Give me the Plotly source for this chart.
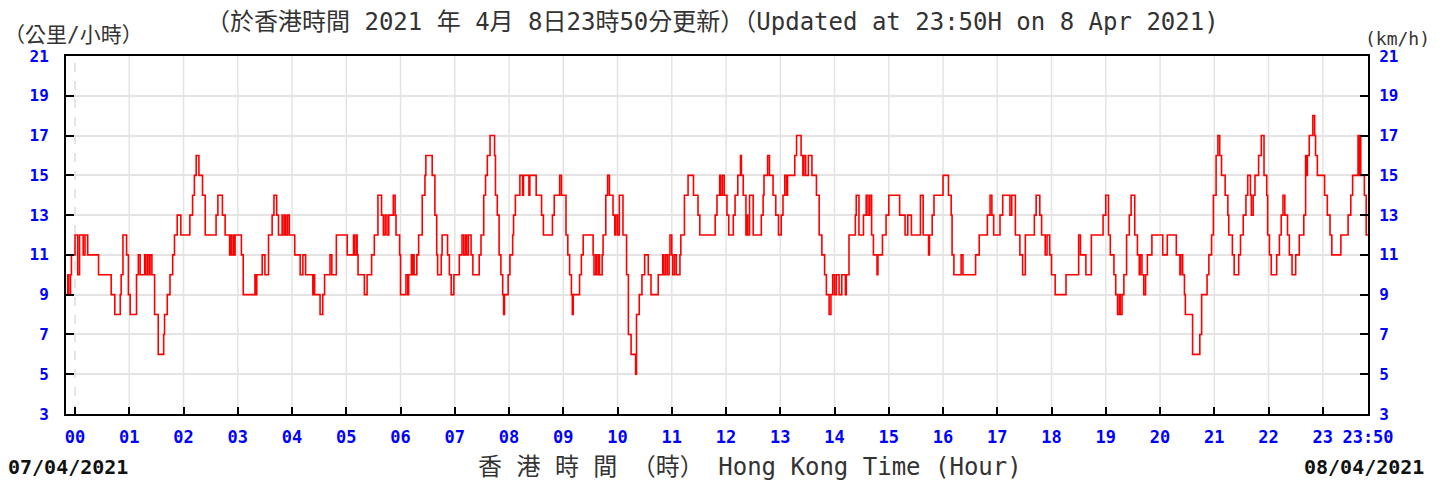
import plotly.graph_objects as go

# ---- data: change points (minutes from 00:00 on 8 Apr 2021) and wind speed (km/h)
minutes = [
    -10, -8, -7, -5, -4, 0, 3, 5, 9, 11, 14, 26, 40, 44, 50, 51, 53, 57, 59, 61,
    68, 70, 72, 77, 78, 80, 82, 83, 85, 88, 92, 98, 99, 102, 105, 108, 110, 113, 117, 127,
    130, 132, 134, 137, 141, 144, 156, 158, 163, 166, 171, 172, 173, 175, 176, 177, 184, 186, 199, 200,
    201, 207, 210, 214, 218, 220, 223, 225, 229, 230, 232, 233, 235, 237, 243, 249, 252, 255, 263, 264,
    265, 271, 274, 276, 282, 284, 289, 301, 308, 309, 311, 312, 313, 320, 323, 328, 331, 335, 339, 341,
    343, 345, 347, 350, 352, 354, 355, 359, 360, 366, 368, 369, 372, 373, 374, 375, 378, 380, 384, 387,
    388, 395, 398, 400, 401, 405, 406, 412, 414, 416, 419, 425, 428, 430, 432, 433, 435, 438, 440, 447,
    449, 452, 454, 456, 459, 464, 465, 467, 469, 471, 473, 474, 475, 479, 481, 484, 485, 487, 492, 495,
    496, 502, 503, 510, 516, 518, 528, 530, 536, 538, 543, 545, 547, 549, 550, 551,
    558, 560, 562, 573, 574, 576, 577, 579, 580, 583, 584, 587, 589, 591, 595, 597, 598, 600, 602, 606,
    610, 612, 615, 620, 621, 624, 627, 630, 634, 637, 645, 650, 651, 653, 655, 657, 658, 660, 661, 663,
    665, 669, 670, 674, 678, 684, 689, 691, 708, 710, 713, 714, 716, 718, 721, 723, 728, 730, 733, 736,
    737, 739, 742, 743, 744, 746, 750, 759, 761, 762, 766, 768, 772, 775, 778, 781, 783, 785, 787, 788,
    796, 798, 803, 805, 806, 808, 811, 815, 820, 823, 826, 829, 831, 834, 836, 838, 840, 842, 845, 848,
    852, 853, 856, 863, 864, 867, 872, 875, 877, 879, 881, 883, 887, 888, 893, 897, 900, 912, 918, 921,
    925, 935, 938, 944, 945, 948, 950, 960, 966, 969, 970, 972, 980, 982, 996, 1000, 1009, 1012, 1014, 1016,
    1023, 1026, 1034, 1036, 1040, 1045, 1048, 1051, 1061, 1063, 1067, 1069, 1073, 1075, 1078, 1080, 1084, 1096, 1110, 1112,
    1118, 1124, 1137, 1140, 1143, 1145, 1149, 1151, 1153, 1155, 1156, 1158, 1160, 1163, 1166, 1168, 1172, 1175, 1177, 1178,
    1180, 1182, 1184, 1186, 1191, 1203, 1208, 1218, 1222, 1223, 1225, 1227, 1228, 1236, 1244, 1246, 1252, 1254, 1257, 1259,
    1262, 1264, 1266, 1268, 1272, 1275, 1276, 1280, 1282, 1287, 1289, 1292, 1295, 1297, 1300, 1301, 1303, 1305, 1309, 1312,
    1315, 1318, 1319, 1321, 1323, 1329, 1332, 1334, 1336, 1338, 1341, 1343, 1346, 1350, 1354, 1359, 1361, 1362, 1363, 1365,
    1369, 1371, 1372, 1374, 1382, 1385, 1388, 1390, 1400, 1408, 1411, 1413, 1419, 1420, 1421, 1422, 1426, 1428, 1430,
]
speed_kmh = [
    9, 10, 9, 10, 11, 12, 10, 12, 11, 12, 11, 10, 9, 8, 9, 10, 12, 11, 9, 8,
    10, 11, 10, 11, 10, 11, 10, 11, 10, 8, 6, 7, 8, 9, 10, 11, 12, 13, 12, 13,
    14, 15, 16, 15, 14, 12, 13, 14, 13, 12, 11, 12, 11, 12, 11, 12, 11, 9, 10, 9,
    10, 11, 10, 12, 13, 14, 13, 12, 13, 12, 13, 12, 13, 12, 11, 10, 11, 10, 9, 10,
    9, 8, 9, 10, 11, 10, 12, 11, 12, 11, 12, 11, 10, 9, 10, 11, 12, 14, 13, 12,
    13, 12, 13, 13, 14, 13, 12, 11, 9, 10, 9, 10, 11, 10, 11, 10, 11, 12, 14, 15,
    16, 15, 13, 11, 10, 11, 12, 11, 10, 9, 10, 11, 12, 11, 12, 11, 12, 11, 10, 11,
    12, 14, 15, 16, 17, 16, 14, 13, 11, 10, 9, 8, 9, 10, 11, 12, 13, 14, 15, 14,
    15, 14, 15, 14, 13, 12, 13, 14, 15, 14, 12, 11, 10, 9, 8, 9,
    10, 11, 12, 11, 10, 11, 10, 11, 10, 11, 12, 14, 15, 14, 13, 12, 13, 12, 14, 12,
    10, 7, 6, 5, 8, 9, 10, 11, 10, 9, 10, 11, 10, 11, 10, 11, 12, 11, 10, 11,
    10, 11, 12, 14, 15, 14, 13, 12, 13, 14, 15, 14, 15, 14, 13, 12, 13, 14, 15, 16,
    15, 14, 12, 13, 12, 14, 12, 13, 14, 15, 16, 15, 14, 13, 12, 13, 14, 15, 14, 15,
    16, 17, 16, 15, 16, 15, 16, 15, 14, 12, 11, 10, 9, 8, 9, 10, 9, 10, 9, 10,
    9, 10, 12, 13, 14, 12, 13, 14, 13, 14, 12, 11, 10, 11, 12, 13, 14, 13, 12, 13,
    12, 14, 12, 11, 12, 13, 14, 15, 14, 13, 11, 10, 11, 10, 11, 12, 13, 14, 13, 12,
    13, 14, 13, 14, 12, 11, 10, 12, 13, 14, 13, 12, 11, 12, 11, 10, 9, 10, 12, 11,
    10, 12, 13, 14, 12, 11, 10, 9, 8, 9, 8, 9, 10, 12, 13, 14, 12, 11, 10, 11,
    10, 9, 10, 11, 12, 11, 12, 11, 10, 11, 10, 9, 8, 6, 7, 9, 10, 11, 12, 14,
    16, 17, 16, 15, 14, 13, 12, 11, 10, 11, 12, 13, 14, 15, 14, 13, 14, 15, 16, 17,
    15, 14, 12, 11, 10, 11, 12, 13, 14, 13, 12, 11, 10, 11, 12, 13, 16, 15, 16, 17,
    18, 17, 16, 15, 14, 13, 12, 11, 12, 13, 14, 15, 17, 15, 17, 15, 14, 12, 12,
]

hour_ticks = list(range(24)) + [1430 / 60]
hour_labels = ["%02d" % h for h in range(24)] + ["23:50"]
y_ticks = list(range(3, 22, 2))

title_text = "（於香港時間 2021 年 4月 8日23時50分更新）（Updated at 23:50H on 8 Apr 2021)"
unit_cn = "（公里/小時）"
unit_en = "(km/h)"
x_title = "香 港 時 間 （時） Hong Kong Time (Hour)"
date_start = "07/04/2021"
date_end = "08/04/2021"

# ---- layout geometry (pixels)
W, H = 1443, 483
L, R, T, B = 66, 1368, 56, 414

def px(xp, yp):
    return (xp - L) / (R - L), (B - yp) / (B - T)

MONO = "DejaVu Sans Mono, Noto Sans CJK TC, monospace"
hours = [m / 60 for m in minutes]

fig = go.Figure()
fig.add_trace(go.Scatter(
    x=hours, y=speed_kmh, mode="lines", line=dict(color="#ff0000", width=1.6, shape="hv"),
    hoverinfo="skip", showlegend=False,
))
fig.add_trace(go.Scatter(
    x=hours[:1], y=speed_kmh[:1], yaxis="y2", mode="markers",
    marker=dict(opacity=0), hoverinfo="skip", showlegend=False,
))

grid_color = "#e4e4e4"
for h in range(24):
    fig.add_shape(type="line", xref="x", yref="paper", x0=h, x1=h, y0=0, y1=1,
                  line=dict(color="#dddddd" if h == 0 else grid_color, width=1.5,
                            dash="dash" if h == 0 else "solid"),
                  layer="below")

tick_font = dict(family=MONO, size=17, color="#0000ff", weight="bold")
yfont = dict(family=MONO, size=16, color="#0000ff", weight="bold")

fig.update_layout(
    width=W, height=H,
    margin=dict(l=L, r=W - R, t=T, b=H - B, pad=0, autoexpand=False),
    paper_bgcolor="white", plot_bgcolor="white",
    xaxis=dict(range=[-10 / 60, 1430 / 60], tickvals=hour_ticks, ticktext=hour_labels,
               showgrid=False, zeroline=False, ticks="inside", ticklen=7, tickwidth=1.5,
               tickcolor="black", showline=True, linecolor="black", linewidth=2, mirror=True,
               tickfont=tick_font, ticklabelstandoff=7),
    yaxis=dict(range=[3, 21], tickvals=y_ticks, showgrid=True, gridcolor=grid_color, gridwidth=1.5,
               zeroline=False, ticks="inside", ticklen=8, tickwidth=1.5, tickcolor="black",
               showline=True, linecolor="black", linewidth=2, tickfont=yfont, ticklabelstandoff=12),
    yaxis2=dict(range=[3, 21], tickvals=y_ticks, overlaying="y", side="right", showgrid=False,
                zeroline=False, ticks="inside", ticklen=8, tickwidth=1.5, tickcolor="black",
                showline=True, linecolor="black", linewidth=2, tickfont=yfont, ticklabelstandoff=6),
)

def note(text, xp, yp, xanchor, size, color="#333333", bold=False):
    xx, yy = px(xp, yp)
    fig.add_annotation(text=text, x=xx, y=yy, xref="paper", yref="paper", xanchor=xanchor,
                       yanchor="middle", showarrow=False,
                       font=dict(family=MONO, size=size, color=color,
                                 weight="bold" if bold else "normal"))

note(title_text, 712, 22, "center", 24)
note(unit_cn, 2, 35, "left", 21)
note(unit_en, 1432, 38, "right", 18)
note(x_title, 750, 467, "center", 24)
note(date_start, 6, 467, "left", 20, color="#111111", bold=True)
note(date_end, 1426, 467, "right", 20, color="#111111", bold=True)

fig.write_html("out.html", config={"displayModeBar": False},
               post_script="document.body.style.margin='0';document.body.style.overflow='hidden';")
